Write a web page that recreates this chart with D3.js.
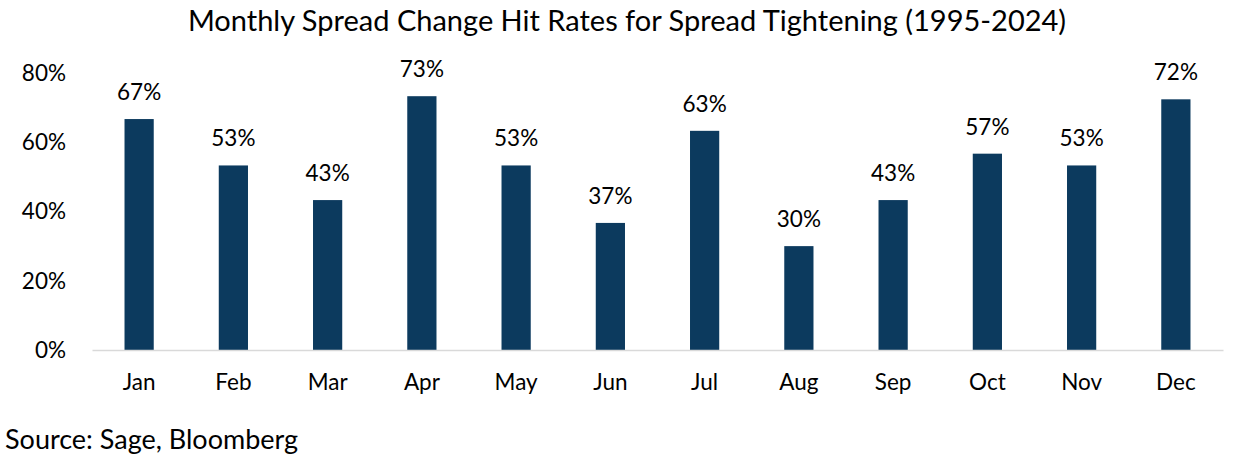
<!DOCTYPE html>
<html>
<head>
<meta charset="utf-8">
<script src="https://cdn.jsdelivr.net/npm/d3@7"></script>
<style>
  body { margin: 0; background: #fff; }
  svg text { font-family: Lato, "Open Sans", sans-serif; fill: #000; }
</style>
</head>
<body>
<svg id="chart" width="1241" height="461"></svg>
<script>
// chart data
var months = ["Jan", "Feb", "Mar", "Apr", "May", "Jun", "Jul", "Aug", "Sep", "Oct", "Nov", "Dec"];
var hitRates = [0.667, 0.533, 0.433, 0.733, 0.533, 0.367, 0.633, 0.300, 0.433, 0.567, 0.533, 0.724];
var yTicks = [0, 0.2, 0.4, 0.6, 0.8];

var width = 1241, height = 461;
var svg = d3.select("#chart");

var x = d3.scaleBand()
    .domain(months)
    .range([92, 1223])
    .paddingInner(0.69)
    .paddingOuter(0.345);

var y = d3.scaleLinear()
    .domain([0, 0.8])
    .range([350, 73]);

// title
svg.append("text")
    .attr("x", 627)
    .attr("y", 31)
    .attr("text-anchor", "middle")
    .style("font-size", "29px")
    .text("Monthly Spread Change Hit Rates for Spread Tightening (1995-2024)");

// y axis labels (no line)
svg.selectAll(".ytick")
    .data(yTicks)
    .enter().append("text")
    .attr("class", "ytick")
    .attr("x", 66)
    .attr("y", d => y(d))
    .attr("dy", "0.35em")
    .attr("text-anchor", "end")
    .style("font-size", "22.5px")
    .text(d => d3.format(".0%")(d));

// bars
svg.selectAll(".bar")
    .data(hitRates)
    .enter().append("rect")
    .attr("class", "bar")
    .attr("x", (d, i) => x(months[i]))
    .attr("y", d => y(d))
    .attr("width", x.bandwidth())
    .attr("height", d => y(0) - y(d))
    .attr("fill", "#0c3a5e");

// value labels
svg.selectAll(".lbl")
    .data(hitRates)
    .enter().append("text")
    .attr("class", "lbl")
    .attr("x", (d, i) => x(months[i]) + x.bandwidth() / 2)
    .attr("y", d => y(d) - 19)
    .attr("text-anchor", "middle")
    .style("font-size", "22.5px")
    .text(d => d3.format(".0%")(d));

// x axis
var xAxis = svg.append("g")
    .attr("transform", "translate(0,350)")
    .call(d3.axisBottom(x).tickSize(0).tickPadding(24));
xAxis.select(".domain").attr("stroke", "#d9d9d9").attr("stroke-width", 1.5);
xAxis.selectAll("text")
    .style("font-size", "22.5px")
    .attr("fill", "#000")
    .style("font-family", "Lato, 'Open Sans', sans-serif");

// source note
svg.append("text")
    .attr("x", 5)
    .attr("y", 449)
    .style("font-size", "27px")
    .text("Source: Sage, Bloomberg");
</script>
</body>
</html>
